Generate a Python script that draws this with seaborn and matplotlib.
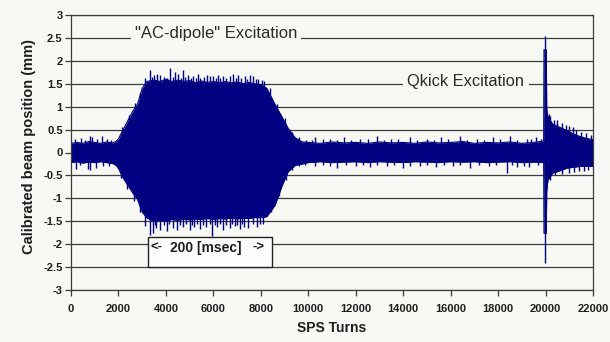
import numpy as np
import pandas as pd
import matplotlib
matplotlib.use("Agg")
import matplotlib.pyplot as plt
from matplotlib.patches import Rectangle
import seaborn as sns

# ---------------- data ----------------
# envelope of the beam-position signal (mm) versus SPS turn
env_turns = [0, 250, 500, 750, 1000, 1250, 1500, 1750, 1900,
             2000, 2200, 2400, 2600, 2800, 3000, 3200,
             3500, 3750, 4000, 4250, 4500, 4750, 5000, 5250, 5500, 5750,
             6000, 6250, 6500, 6750, 7000, 7250, 7500, 7750, 8000,
             8250, 8600, 8900, 9150, 9450, 9750,
             10000, 10500, 11000, 11500, 12000, 12500, 13000, 13500, 14000,
             14500, 15000, 15500, 16000, 16500, 17000, 17500, 18000, 18500,
             19000, 19500, 19920,
             19935, 20030, 20050, 20100, 20300, 20600, 20900, 21200, 21500,
             21800, 22000]
env_upper = [0.20, 0.22, 0.20, 0.24, 0.22, 0.20, 0.23, 0.21, 0.24,
             0.30, 0.50, 0.70, 0.90, 1.05, 1.40, 1.55,
             1.58, 1.55, 1.60, 1.55, 1.58, 1.55, 1.57, 1.52, 1.56, 1.53,
             1.55, 1.52, 1.55, 1.52, 1.54, 1.50, 1.53, 1.50, 1.48,
             1.40, 1.05, 0.77, 0.53, 0.32, 0.23,
             0.22, 0.20, 0.23, 0.21, 0.22, 0.20, 0.23, 0.21, 0.22,
             0.20, 0.23, 0.21, 0.22, 0.24, 0.20, 0.22, 0.21, 0.23,
             0.20, 0.22, 0.25,
             2.24, 2.24, 0.95, 0.78, 0.62, 0.55, 0.48, 0.40, 0.34,
             0.30, 0.28]
env_lower = [-0.22, -0.20, -0.23, -0.21, -0.22, -0.20, -0.22, -0.24, -0.28,
             -0.35, -0.56, -0.72, -0.88, -1.02, -1.30, -1.43,
             -1.50, -1.48, -1.50, -1.46, -1.48, -1.45, -1.47, -1.45, -1.46, -1.44,
             -1.46, -1.44, -1.45, -1.43, -1.45, -1.43, -1.44, -1.42, -1.42,
             -1.40, -1.15, -0.72, -0.42, -0.28, -0.25,
             -0.22, -0.20, -0.22, -0.21, -0.20, -0.22, -0.20, -0.21, -0.22,
             -0.20, -0.21, -0.22, -0.20, -0.21, -0.20, -0.22, -0.21, -0.20,
             -0.22, -0.21, -0.22,
             -1.76, -1.76, -0.85, -0.60, -0.45, -0.40, -0.34, -0.32, -0.30,
             -0.30, -0.30]

# isolated positive / negative peaks of the signal
peak_up_turns = [150, 420, 600, 800, 880, 1100, 1300, 1520, 1700,
                 2150, 2450, 2700, 2900, 3100,
                 3330, 3400, 3480, 3610, 3750, 3900, 4050, 4170, 4280, 4380,
                 4510, 4620, 4720, 4820, 4930, 5050, 5140, 5250, 5350, 5450,
                 5600, 5730, 5860, 5980, 6100, 6190, 6300, 6400, 6550, 6700,
                 6830, 6950, 7040, 7150, 7330, 7420, 7540, 7670, 7780, 7900,
                 8050, 8150,
                 8400, 8700, 9000, 9300, 9600, 9900,
                 10150, 10300, 10600, 10900, 11200, 11500, 11800, 12200,
                 12500, 12900, 13200, 13500, 13800, 14300, 14600, 15000,
                 15300, 15600, 15900, 16400, 16700, 17100, 17400, 17800,
                 18100, 18500, 18800, 19200, 19400, 19600, 19800,
                 19960, 20150, 20200, 20350, 20500, 20700, 20850, 21000,
                 21150, 21300, 21500, 21700, 21900]
peak_up_vals = [0.30, 0.32, 0.28, 0.36, 0.33, 0.29, 0.35, 0.30, 0.28,
                0.55, 0.82, 1.08, 1.30, 1.62,
                1.80, 1.64, 1.70, 1.72, 1.70, 1.65, 1.62, 1.84, 1.64, 1.76,
                1.72, 1.63, 1.80, 1.64, 1.70, 1.62, 1.68, 1.63, 1.72, 1.62,
                1.64, 1.70, 1.66, 1.68, 1.62, 1.70, 1.63, 1.66, 1.62, 1.68,
                1.72, 1.62, 1.70, 1.62, 1.68, 1.61, 1.70, 1.66, 1.60, 1.60,
                1.58, 1.55,
                1.40, 1.05, 0.75, 0.45, 0.33, 0.28,
                0.28, 0.33, 0.29, 0.30, 0.27, 0.34, 0.28, 0.30,
                0.29, 0.35, 0.27, 0.30, 0.29, 0.33, 0.28, 0.30,
                0.27, 0.34, 0.29, 0.36, 0.28, 0.30, 0.27, 0.33,
                0.29, 0.35, 0.28, 0.30, 0.29, 0.33, 0.30,
                2.55, 0.85, 0.80, 0.72, 0.70, 0.64, 0.60, 0.58,
                0.55, 0.50, 0.45, 0.42, 0.38]
peak_dn_turns = [200, 400, 700, 800, 1050, 1350, 1600,
                 2100, 2350, 2650, 2900, 3100,
                 3330, 3460, 3550, 3600, 3750, 3900, 4050, 4150, 4300, 4470,
                 4600, 4700, 4850, 5010, 5100, 5200, 5300, 5440, 5550, 5700,
                 5850, 5940, 6050, 6150, 6300, 6400, 6550, 6700, 6800, 6900,
                 7000, 7120, 7200, 7300, 7460, 7650, 7840, 7950, 8100,
                 8450, 8750, 9050, 9300, 9600, 9850,
                 10300, 10600, 10900, 11200, 11600, 12000, 12300, 12600,
                 12900, 13300, 13600, 14000, 14300, 14700, 15000, 15400,
                 15700, 16100, 16400, 16800, 17200, 17600, 17900, 18370,
                 18600, 18800, 19100, 19300, 19700,
                 19960, 20200, 20400, 20700, 21000, 21200, 21400, 21600,
                 21800]
peak_dn_vals = [-0.35, -0.28, -0.35, -0.38, -0.33, -0.29, -0.30,
                -0.55, -0.80, -1.05, -1.30, -1.60,
                -1.80, -1.75, -1.58, -1.65, -1.70, -1.58, -1.72, -1.57, -1.65, -1.70,
                -1.58, -1.62, -1.56, -1.68, -1.58, -1.62, -1.56, -1.66, -1.58, -1.62,
                -1.57, -1.82, -1.58, -1.62, -1.57, -1.68, -1.58, -1.65, -1.57, -1.60,
                -1.58, -1.66, -1.56, -1.62, -1.64, -1.56, -1.62, -1.55, -1.55,
                -1.30, -0.95, -0.60, -0.38, -0.30, -0.28,
                -0.30, -0.28, -0.29, -0.33, -0.28, -0.30, -0.27, -0.32,
                -0.28, -0.30, -0.27, -0.33, -0.29, -0.30, -0.27, -0.32,
                -0.28, -0.30, -0.27, -0.33, -0.28, -0.30, -0.27, -0.45,
                -0.28, -0.32, -0.29, -0.32, -0.28,
                -2.40, -0.60, -0.50, -0.46, -0.45, -0.42, -0.40, -0.40,
                -0.38]

x_ticks = list(range(0, 22001, 2000))
y_ticks = [-3, -2.5, -2, -1.5, -1, -0.5, 0, 0.5, 1, 1.5, 2, 2.5, 3]
y_tick_labels = ["-3", "-2.5", "-2", "-1.5", "-1", "-0.5", "0",
                 "0.5", "1", "1.5", "2", "2.5", "3"]

# ---------------- style ----------------
sns.set_theme(style="white")
plt.rcParams["font.family"] = ["Liberation Sans", "DejaVu Sans"]

BG = "#f8f8f4"
NAVY = "#000080"
GRID = "#3c3c3c"
TXT = "#1e1e1e"

W, H = 610, 342
fig = plt.figure(figsize=(W / 100, H / 100), dpi=100, facecolor=BG)
ax = fig.add_axes([71 / W, 1 - 290 / H, 522 / W, 275 / H])
ax.set_facecolor(BG)

env = pd.DataFrame({"turn": env_turns, "upper": env_upper, "lower": env_lower})

ax.fill_between(env["turn"], env["lower"], env["upper"], color=NAVY, lw=0, zorder=2)
sns.lineplot(data=env, x="turn", y="upper", ax=ax, color=NAVY, lw=0.8, zorder=2,
             estimator=None, sort=False)
sns.lineplot(data=env, x="turn", y="lower", ax=ax, color=NAVY, lw=0.8, zorder=2,
             estimator=None, sort=False)
ax.vlines(peak_up_turns, 0, peak_up_vals, color=NAVY, lw=1.0, zorder=2)
ax.vlines(peak_dn_turns, 0, peak_dn_vals, color=NAVY, lw=1.0, zorder=2)

ax.set_xlim(0, 22000)
ax.set_ylim(-3, 3)
ax.set_xticks(x_ticks)
ax.set_xticklabels([str(t) for t in x_ticks])
ax.set_yticks(y_ticks)
ax.set_yticklabels(y_tick_labels)

ax.yaxis.grid(True, color=GRID, lw=0.9)
ax.xaxis.grid(False)
ax.set_axisbelow(True)

for s in ax.spines.values():
    s.set_visible(True)
    s.set_color(GRID)
    s.set_linewidth(0.9)

ax.tick_params(axis="both", which="major", bottom=True, left=True,
               direction="out", length=4, width=0.9, color=GRID,
               labelsize=8, labelcolor=TXT)
ax.tick_params(axis="x", pad=6)
ax.tick_params(axis="y", pad=2)
for lbl in ax.get_xticklabels() + ax.get_yticklabels():
    lbl.set_fontweight("bold")

ax.set_xlabel("SPS Turns", fontsize=10, fontweight="bold", color=TXT)
ax.set_ylabel("Calibrated beam position (mm)", fontsize=10.5, fontweight="bold", color=TXT)
ax.xaxis.set_label_coords(0.5, (290 - 328) / 275)
ax.xaxis.label.set_va("center")
ax.yaxis.set_label_coords((29 - 71) / 522, (290 - 146) / 275)
ax.yaxis.label.set_va("center")

# annotations
ax.text(6110, 2.6, '"AC-dipole" Excitation', ha="center", va="center",
        fontsize=12, color="#2a2a2a", zorder=4,
        bbox=dict(boxstyle="square,pad=0.22", fc=BG, ec="none"))
ax.text(16645, 1.55, "Qkick Excitation", ha="center", va="center",
        fontsize=11.8, color="#2a2a2a", zorder=4,
        bbox=dict(boxstyle="square,pad=0.3", fc=BG, ec="none"))

ax.add_patch(Rectangle((3245, -2.5), 8470 - 3245, 0.66, fc="#fdfdfb",
                       ec="#222222", lw=1.0, zorder=5))
ax.text(3330, -2.08, "<-", ha="left", va="center", fontsize=9.5,
        fontweight="bold", color=TXT, zorder=6)
ax.text(5690, -2.08, "200 [msec]", ha="center", va="center", fontsize=10,
        fontweight="bold", color=TXT, zorder=6)
ax.text(8175, -2.08, "->", ha="right", va="center", fontsize=9.5,
        fontweight="bold", color=TXT, zorder=6)

fig.savefig("out.png", dpi=100, facecolor=BG)
